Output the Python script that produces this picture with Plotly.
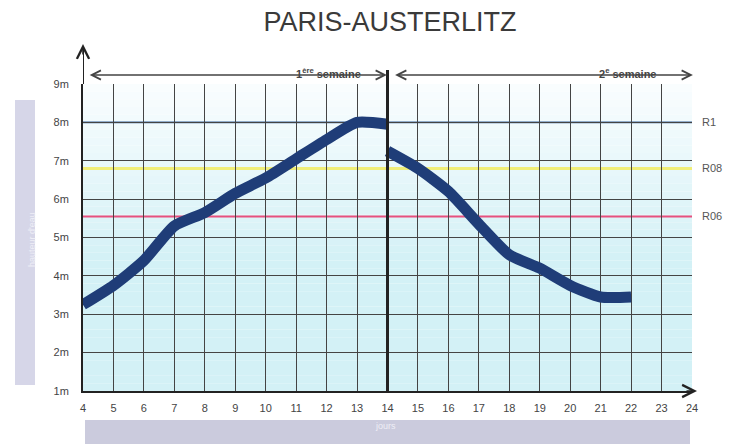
import plotly.graph_objects as go
import numpy as np

# ---- data ----
days_week1 = [4, 5, 6, 7, 8, 9, 10, 11, 12, 13, 14]
level_week1 = [3.25, 3.75, 4.4, 5.3, 5.65, 6.15, 6.55, 7.05, 7.55, 8.0, 7.95]
days_week2 = [14, 15, 16, 17, 18, 19, 20, 21, 22]
level_week2 = [7.25, 6.8, 6.2, 5.35, 4.55, 4.2, 3.75, 3.45, 3.45]

x_ticks = list(range(4, 25))
y_ticks = list(range(1, 10))
y_ticktext = [f"{v}m" for v in y_ticks]

ref_names = ["R1", "R08", "R06"]
ref_levels = [8.0, 6.8, 5.55]
ref_colors = ["#35609a", "#f0ee78", "#e8507e"]
ref_widths = [1.6, 3, 2]

week_labels = ["1<sup>ère</sup> semaine", "2<sup>e</sup> semaine"]

FONT = "Liberation Sans"
curve_color = "#1f3d78"

# page has an 8px body margin: figure is drawn 8px right/down
W, H = 726, 436
L, R, T, B = 75, 42, 76, 53
PW, PH = W - L - R, H - T - B


def px(xp):  # page x pixel -> paper x
    return (xp - 8 - L) / PW


def py(yp):  # page y pixel -> paper y
    return (H - B - (yp - 8)) / PH


fig = go.Figure()

fig.add_trace(go.Scatter(x=days_week1, y=level_week1, mode="lines",
                         line=dict(color=curve_color, width=11, shape="spline", smoothing=0.6),
                         hoverinfo="skip", showlegend=False))
fig.add_trace(go.Scatter(x=days_week2, y=level_week2, mode="lines",
                         line=dict(color=curve_color, width=11, shape="spline", smoothing=0.6),
                         hoverinfo="skip", showlegend=False))

shapes = []
# background gradient bands (below gridlines)
bottom = np.array([0xd3, 0xf1, 0xf6])
top = np.array([0xfb, 0xfe, 0xff])
steps = np.arange(1, 9, 0.2)
for y0 in steps:
    t = (y0 - 1) / 8
    t = max(0.0, (t - 0.4) / 0.6)
    c = bottom + (top - bottom) * t
    shapes.append(dict(type="rect", xref="x", yref="y", x0=4, x1=24, y0=y0, y1=y0 + 0.2,
                       fillcolor="rgb(%d,%d,%d)" % tuple(c.astype(int)), line=dict(width=0),
                       layer="below"))

# reference lines
for lvl, col, w in zip(ref_levels, ref_colors, ref_widths):
    shapes.append(dict(type="line", xref="x", yref="y", x0=4, x1=24, y0=lvl, y1=lvl,
                       line=dict(color=col, width=w), layer="below"))

# week divider
shapes.append(dict(type="line", xref="x", yref="paper", x0=14, x1=14, y0=0, y1=py(70),
                   line=dict(color="#222", width=3)))
# axis extensions
shapes.append(dict(type="line", xref="x", yref="paper", x0=4, x1=4, y0=1, y1=py(46),
                   line=dict(color="#222", width=2)))
shapes.append(dict(type="line", xref="paper", yref="y", x0=1, x1=px(695), y0=1, y1=1,
                   line=dict(color="#222", width=2)))
# side bars
shapes.append(dict(type="rect", xref="paper", yref="paper", x0=px(15), x1=px(35), y0=py(385), y1=py(100),
                   fillcolor="#d6d6e8", line=dict(width=0)))
shapes.append(dict(type="rect", xref="paper", yref="paper", x0=px(85), x1=px(690), y0=py(445), y1=py(420),
                   fillcolor="#cbcbdd", line=dict(width=0)))

annotations = []
# week arrows
for (a, b) in [(4.17, 13.98), (14.2, 24.03)]:
    annotations.append(dict(x=b, y=py(75), xref="x", yref="paper", ax=a, ay=0, axref="x", ayref="pixel",
                            text="", showarrow=True, arrowhead=5, startarrowhead=5, arrowside="end+start",
                            arrowsize=1.3, arrowwidth=1.4, arrowcolor="#444"))
for xlab, txt in zip([12.05, 21.9], week_labels):
    annotations.append(dict(x=xlab, y=py(64), xref="x", yref="paper", text="<b>" + txt + "</b>",
                            showarrow=False, font=dict(family=FONT, size=11, color="#444")))
# axis arrow heads
annotations.append(dict(x=4, y=py(44), xref="x", yref="paper", ax=0, ay=12, text="", showarrow=True,
                        arrowhead=5, arrowsize=1.5, arrowwidth=1.6, arrowcolor="#222"))
annotations.append(dict(x=px(697), y=1, xref="paper", yref="y", ax=-12, ay=0, text="", showarrow=True,
                        arrowhead=5, arrowsize=1.5, arrowwidth=1.6, arrowcolor="#222"))
# reference labels
for name, lvl in zip(ref_names, ref_levels):
    annotations.append(dict(x=px(700), y=lvl, xref="paper", yref="y", text=name, showarrow=False,
                            xanchor="left", font=dict(family=FONT, size=11, color="#555")))
# faint bar texts
annotations.append(dict(x=px(25), y=py(240), xref="paper", yref="paper", text="hauteur d'eau", textangle=-90,
                        showarrow=False, font=dict(family=FONT, size=9, color="#eeeef6")))
annotations.append(dict(x=px(385), y=py(433), xref="paper", yref="paper", text="jours", showarrow=False,
                        font=dict(family=FONT, size=9, color="#eeeef6")))

fig.update_layout(
    width=W, height=H,
    margin=dict(l=L, r=R, t=T, b=B),
    paper_bgcolor="white", plot_bgcolor="white",
    title=dict(text="PARIS-AUSTERLITZ", x=(390 - 8) / W, xanchor="center", y=1 - (22 - 8) / H,
               yanchor="middle", font=dict(family=FONT, size=27, color="#3a3a3a")),
    xaxis=dict(range=[4, 24], tickvals=x_ticks, ticktext=[str(v) for v in x_ticks],
               showgrid=True, gridcolor="#444", gridwidth=1.2, zeroline=False,
               showline=True, linecolor="#222", linewidth=2, ticks="",
               ticklabelstandoff=6, tickfont=dict(family=FONT, size=11, color="#444")),
    yaxis=dict(range=[1, 9], tickvals=y_ticks, ticktext=y_ticktext,
               showgrid=True, gridcolor="#444", gridwidth=1, zeroline=False,
               showline=True, linecolor="#222", linewidth=2, ticks="",
               ticklabelstandoff=10, tickfont=dict(family=FONT, size=11, color="#444")),
    shapes=shapes, annotations=annotations,
)

fig.write_html("out.html")
